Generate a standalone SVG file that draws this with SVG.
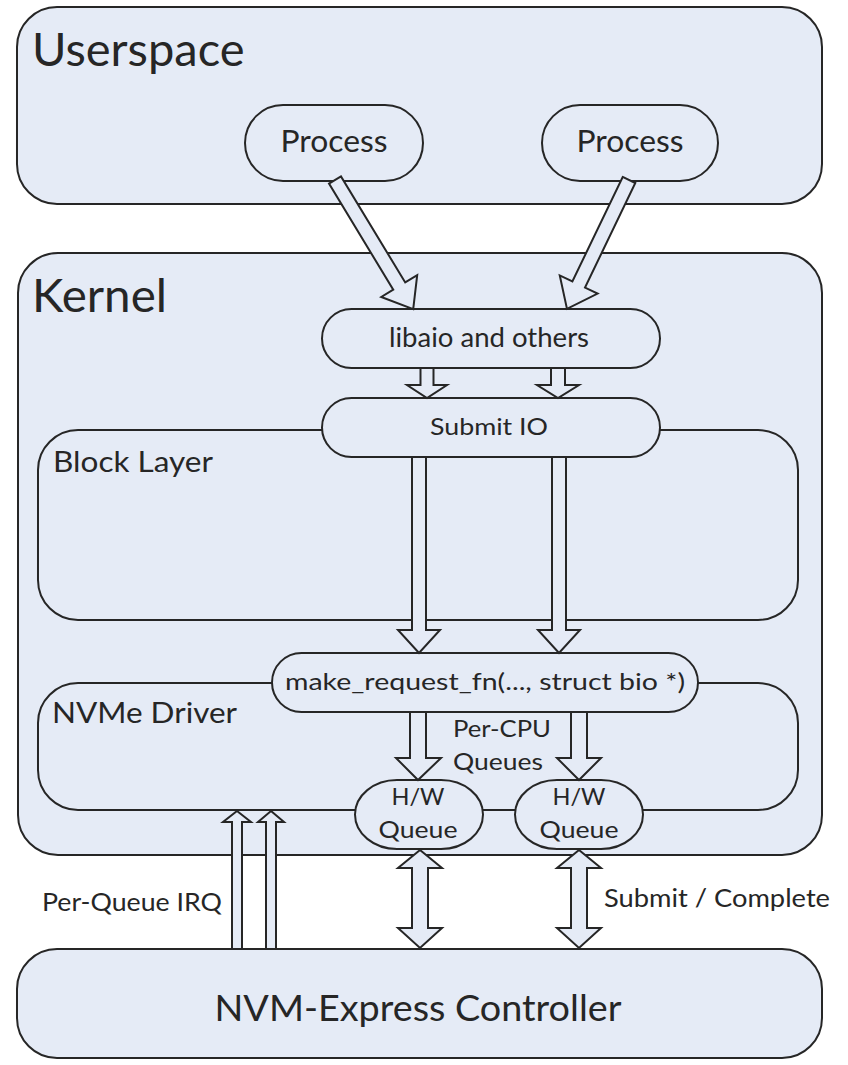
<svg xmlns="http://www.w3.org/2000/svg" width="848" height="1065" viewBox="0 0 848 1065">
  <style>
    .box { fill: #e5ebf6; stroke: #262626; stroke-width: 2; }
    .arrow { fill: #e5ebf6; stroke: #262626; stroke-width: 2; stroke-linejoin: miter; }
    text { font-family: Lato, "Open Sans", "Liberation Sans", sans-serif; fill: #262626; }
    .title { font-size: 47px; }
    .sub { font-size: 28px; }
    .mid { text-anchor: middle; }
  </style>
  <rect width="848" height="1065" fill="#ffffff"/>

  <!-- Userspace region -->
  <g id="userspace">
    <rect class="box" x="17" y="7" width="805" height="197" rx="40" ry="40"/>
    <text class="title" x="32" y="66">Userspace</text>
  </g>
  <g id="process1">
    <rect class="box" x="245" y="105" width="178" height="76" rx="38" ry="38"/>
    <text class="mid" x="334" y="152" font-size="31" textLength="107" lengthAdjust="spacingAndGlyphs">Process</text>
  </g>
  <g id="process2">
    <rect class="box" x="542" y="105" width="176" height="76" rx="38" ry="38"/>
    <text class="mid" x="630" y="152" font-size="31" textLength="107" lengthAdjust="spacingAndGlyphs">Process</text>
  </g>

  <!-- Kernel region -->
  <g id="kernel">
    <rect class="box" x="18" y="253" width="804" height="602" rx="40" ry="40"/>
    <text class="title" x="32" y="312" textLength="135" lengthAdjust="spacingAndGlyphs">Kernel</text>
  </g>
  <g id="block-layer">
    <rect class="box" x="38" y="430" width="760" height="190" rx="40" ry="40"/>
    <text class="sub" x="53" y="472" textLength="160" lengthAdjust="spacingAndGlyphs">Block Layer</text>
  </g>
  <g id="nvme-driver">
    <rect class="box" x="38" y="683" width="760" height="127" rx="40" ry="40"/>
    <text class="sub" x="52" y="723" textLength="185" lengthAdjust="spacingAndGlyphs">NVMe Driver</text>
  </g>
  <g id="libaio">
    <rect class="box" x="322" y="309" width="338" height="59" rx="29.5" ry="29.5"/>
    <text class="mid" x="489" y="347" font-size="26" textLength="200" lengthAdjust="spacingAndGlyphs">libaio and others</text>
  </g>
  <g id="submit-io">
    <rect class="box" x="322" y="398" width="338" height="59" rx="29.5" ry="29.5"/>
    <text class="mid" x="489" y="435" font-size="24" textLength="118" lengthAdjust="spacingAndGlyphs">Submit IO</text>
  </g>
  <g id="make-request">
    <rect class="box" x="272" y="653" width="426" height="59" rx="29.5" ry="29.5"/>
    <text class="mid" x="485" y="690" font-size="23" textLength="400" lengthAdjust="spacingAndGlyphs">make_request_fn(..., struct bio *)</text>
  </g>
  <g id="per-cpu-label">
    <text x="453" y="737" font-size="24" textLength="98" lengthAdjust="spacingAndGlyphs">Per-CPU</text>
    <text x="453" y="770" font-size="24" textLength="90" lengthAdjust="spacingAndGlyphs">Queues</text>
  </g>
  <g id="hw-queue1">
    <rect class="box" x="355" y="780" width="128" height="69" rx="42" ry="34.5"/>
    <text class="mid" x="418" y="805" font-size="24" textLength="53" lengthAdjust="spacingAndGlyphs">H/W</text>
    <text class="mid" x="418" y="838" font-size="24" textLength="79" lengthAdjust="spacingAndGlyphs">Queue</text>
  </g>
  <g id="hw-queue2">
    <rect class="box" x="515" y="780" width="128" height="69" rx="42" ry="34.5"/>
    <text class="mid" x="579" y="805" font-size="24" textLength="53" lengthAdjust="spacingAndGlyphs">H/W</text>
    <text class="mid" x="579" y="838" font-size="24" textLength="79" lengthAdjust="spacingAndGlyphs">Queue</text>
  </g>

  <!-- Device -->
  <g id="controller">
    <rect class="box" x="17" y="949" width="805" height="109" rx="40" ry="40"/>
    <text class="mid" x="418" y="1021" font-size="36" textLength="407" lengthAdjust="spacingAndGlyphs">NVM-Express Controller</text>
  </g>

  <!-- Block arrows between layers -->
  <g id="connectors">
    <!-- process -> libaio -->
    <polygon class="arrow" transform="translate(335,180) rotate(-31.2)" points="-7,0 7,0 7,124 21,124 0,151 -21,124 -7,124"/>
    <polygon class="arrow" transform="translate(629,180) rotate(25.7)" points="-7,0 7,0 7,116 21,116 0,143 -21,116 -7,116"/>
    <!-- libaio -> submit IO -->
    <polygon class="arrow" points="420.5,368 433.5,368 433.5,385 447,385 427,398 407,385 420.5,385"/>
    <polygon class="arrow" points="551,368 565,368 565,385 579,385 558,398 537,385 551,385"/>
    <!-- submit IO -> make_request_fn -->
    <polygon class="arrow" points="412,457 426,457 426,630 440,630 419,653 398,630 412,630"/>
    <polygon class="arrow" points="552,457 566,457 566,630 580,630 559,653 538,630 552,630"/>
    <!-- make_request_fn -> H/W queues -->
    <polygon class="arrow" points="410,712 426,712 426,758 441,758 418,780 396,758 410,758"/>
    <polygon class="arrow" points="571,712 587,712 587,758 601,758 579,780 557,758 571,758"/>
    <!-- H/W queue <-> controller -->
    <polygon class="arrow" points="420,850 442,868 428,868 428,928 442,928 420,948 398,928 412,928 412,868 398,868"/>
    <polygon class="arrow" points="579,850 601,868 587,868 587,928 601,928 579,948 557,928 571,928 571,868 557,868"/>
    <!-- per-queue interrupts -->
    <polygon class="arrow" points="237,811 251,822 242,822 242,949 232,949 232,822 223,822"/>
    <polygon class="arrow" points="271,811 284,822 276,822 276,949 266,949 266,822 258,822"/>
  </g>

  <!-- Connector labels -->
  <text x="42" y="911" font-size="25" textLength="180" lengthAdjust="spacingAndGlyphs">Per-Queue IRQ</text>
  <text x="604" y="907" font-size="25" textLength="226" lengthAdjust="spacingAndGlyphs">Submit / Complete</text>
</svg>
